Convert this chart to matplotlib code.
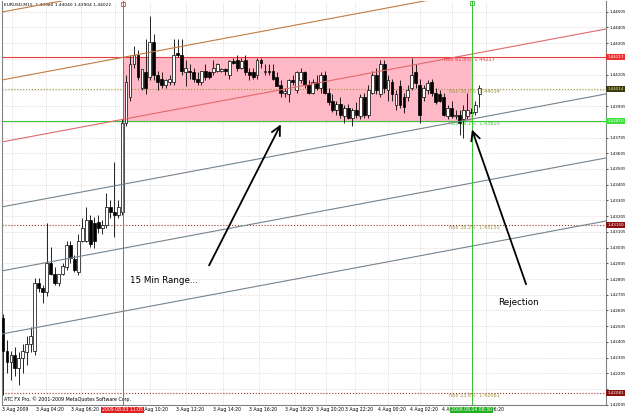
import matplotlib
matplotlib.use('Agg')
import matplotlib.pyplot as plt


# EURUSD M15 bars
opens = [1.4256, 1.4235, 1.4228, 1.4232, 1.4224, 1.4230, 1.4234, 1.4239, 1.4235, 1.4278,
         1.4275, 1.4272, 1.4291, 1.4284, 1.4278, 1.4284, 1.4288, 1.4302, 1.4293, 1.4285,
         1.4305, 1.4305, 1.4318, 1.4316, 1.4317, 1.4313, 1.4315, 1.4326, 1.4323, 1.4321,
         1.4323, 1.4380, 1.4396, 1.4417, 1.4423, 1.4402, 1.4412, 1.4409, 1.4431, 1.4410,
         1.4408, 1.4404, 1.4406, 1.4406, 1.4424, 1.4423, 1.4412, 1.4413, 1.4412, 1.4408,
         1.4406, 1.4413, 1.4412, 1.4412, 1.4413, 1.4413, 1.4414, 1.4410, 1.4419, 1.4420,
         1.4415, 1.4420, 1.4412, 1.4412, 1.4410, 1.4420, 1.4412, 1.4413, 1.4413, 1.4409,
         1.4404, 1.4399, 1.4398, 1.4407, 1.4401, 1.4407, 1.4412, 1.4404, 1.4399, 1.4406,
         1.4402, 1.4410, 1.4399, 1.4394, 1.4388, 1.4392, 1.4384, 1.4389, 1.4383, 1.4388,
         1.4384, 1.4396, 1.4385, 1.4399, 1.4410, 1.4398, 1.4417, 1.4401, 1.4406, 1.4391,
         1.4403, 1.4396, 1.4396, 1.4402, 1.4412, 1.4404, 1.4396, 1.4401, 1.4406, 1.4399,
         1.4398, 1.4396, 1.4384, 1.4389, 1.4384, 1.4385, 1.4382, 1.4384, 1.4387, 1.4387,
         1.4398]
highs = [1.4258, 1.4242, 1.4235, 1.4237, 1.4234, 1.4239, 1.4244, 1.4250, 1.4281, 1.4281,
         1.4277, 1.4316, 1.4301, 1.4288, 1.4283, 1.4291, 1.4305, 1.4305, 1.4296, 1.4309,
         1.4319, 1.4326, 1.4321, 1.4320, 1.4321, 1.4318, 1.4335, 1.4331, 1.4355, 1.4331,
         1.4382, 1.4410, 1.4423, 1.4429, 1.4426, 1.4413, 1.4433, 1.4448, 1.4436, 1.4413,
         1.4412, 1.4408, 1.4410, 1.4433, 1.4433, 1.4433, 1.4420, 1.4417, 1.4415, 1.4412,
         1.4413, 1.4417, 1.4413, 1.4420, 1.4418, 1.4415, 1.4415, 1.4420, 1.4421, 1.4423,
         1.4421, 1.4423, 1.4415, 1.4415, 1.4421, 1.4421, 1.4417, 1.4417, 1.4417, 1.4412,
         1.4407, 1.4402, 1.4408, 1.4410, 1.4413, 1.4415, 1.4413, 1.4407, 1.4408, 1.4410,
         1.4412, 1.4413, 1.4402, 1.4398, 1.4394, 1.4396, 1.4391, 1.4392, 1.4389, 1.4393,
         1.4398, 1.4399, 1.4404, 1.4413, 1.4415, 1.4420, 1.4420, 1.4410, 1.4408, 1.4401,
         1.4407, 1.4399, 1.4404, 1.4421, 1.4417, 1.4408, 1.4404, 1.4407, 1.4408, 1.4402,
         1.4401, 1.4399, 1.4391, 1.4394, 1.4388, 1.4388, 1.4391, 1.4399, 1.4389, 1.4394,
         1.4404]
lows = [1.4207, 1.4221, 1.4216, 1.4219, 1.4213, 1.4221, 1.4226, 1.4234, 1.4232, 1.4272,
        1.4265, 1.4270, 1.4283, 1.4277, 1.4276, 1.4283, 1.4286, 1.4291, 1.4285, 1.4283,
        1.4304, 1.4304, 1.4301, 1.4300, 1.4310, 1.4309, 1.4313, 1.4319, 1.4307, 1.4319,
        1.4321, 1.4378, 1.4394, 1.4415, 1.4407, 1.4401, 1.4398, 1.4407, 1.4407, 1.4401,
        1.4402, 1.4402, 1.4404, 1.4404, 1.4422, 1.4410, 1.4403, 1.4408, 1.4406, 1.4404,
        1.4404, 1.4407, 1.4408, 1.4410, 1.4412, 1.4412, 1.4410, 1.4408, 1.4417, 1.4413,
        1.4414, 1.4410, 1.4407, 1.4408, 1.4408, 1.4415, 1.4410, 1.4410, 1.4407, 1.4403,
        1.4396, 1.4396, 1.4393, 1.4404, 1.4399, 1.4405, 1.4402, 1.4398, 1.4398, 1.4401,
        1.4399, 1.4398, 1.4391, 1.4387, 1.4385, 1.4383, 1.4380, 1.4382, 1.4378, 1.4383,
        1.4382, 1.4383, 1.4383, 1.4398, 1.4398, 1.4396, 1.4399, 1.4394, 1.4394, 1.4388,
        1.4389, 1.4386, 1.4394, 1.4401, 1.4402, 1.4380, 1.4394, 1.4398, 1.4397, 1.4392,
        1.4393, 1.4384, 1.4382, 1.4383, 1.4382, 1.4372, 1.4370, 1.4382, 1.4386, 1.4385,
        1.4390]
closes = [1.4235, 1.4228, 1.4232, 1.4224, 1.4230, 1.4235, 1.4239, 1.4244, 1.4278, 1.4275,
          1.4272, 1.4291, 1.4284, 1.4278, 1.4284, 1.4289, 1.4302, 1.4294, 1.4286, 1.4305,
          1.4313, 1.4318, 1.4303, 1.4305, 1.4313, 1.4315, 1.4326, 1.4323, 1.4321, 1.4326,
          1.4380, 1.4406, 1.4417, 1.4423, 1.4409, 1.4414, 1.4402, 1.4431, 1.4410, 1.4406,
          1.4404, 1.4407, 1.4408, 1.4423, 1.4423, 1.4413, 1.4415, 1.4412, 1.4408, 1.4406,
          1.4413, 1.4409, 1.4409, 1.4415, 1.4417, 1.4414, 1.4413, 1.4419, 1.4418, 1.4415,
          1.4419, 1.4412, 1.4410, 1.4409, 1.4420, 1.4418, 1.4413, 1.4412, 1.4408, 1.4403,
          1.4399, 1.4400, 1.4407, 1.4406, 1.4412, 1.4412, 1.4404, 1.4399, 1.4406, 1.4402,
          1.4410, 1.4399, 1.4393, 1.4388, 1.4392, 1.4385, 1.4389, 1.4383, 1.4388, 1.4385,
          1.4396, 1.4385, 1.4401, 1.4410, 1.4401, 1.4417, 1.4402, 1.4407, 1.4398, 1.4398,
          1.4391, 1.4390, 1.4401, 1.4410, 1.4405, 1.4385, 1.4402, 1.4405, 1.4399, 1.4393,
          1.4394, 1.4385, 1.4389, 1.4384, 1.4385, 1.4380, 1.4388, 1.4388, 1.4386, 1.4391,
          1.4402]

price_ticks = [1.42005, 1.42105, 1.42205, 1.42305, 1.42405, 1.42505, 1.42605, 1.42705,
               1.42805, 1.42905, 1.43005, 1.43105, 1.43205, 1.43305, 1.43405, 1.43505,
               1.43605, 1.43705, 1.43805, 1.43905, 1.44005, 1.44105, 1.44205, 1.44305,
               1.44405, 1.44505]
hidden_ticks = [1.42105, 1.43805, 1.44005, 1.44205]

time_bars = [-0.25, 8.3, 17.1, 25.7, 34.5, 43.6, 52.9, 62.0, 71.0, 78.8, 86.1, 94.5,
             102.5, 110.6, 119.1]
time_labels = ['3 Aug 2009', '3 Aug 04:20', '3 Aug 06:20', '3 Aug 08:20', '3 Aug 10:20',
               '3 Aug 12:20', '3 Aug 14:20', '3 Aug 16:20', '3 Aug 18:20', '3 Aug 20:20',
               '3 Aug 22:20', '4 Aug 00:20', '4 Aug 02:20', '4 Aug 04:20', '4 Aug 06:20']

fib_levels = [1.44217, 1.44014, 1.43810, 1.43150, 1.42081]
fib_names = ['fibo 61.8%', 'fibo 50.0%', 'fibo 38.2%', 'fibo 38.2%', 'fibo 23.6%']
fib_colors = ['#e83a3a', '#9a9a30', '#3cc83c', '#a09040', '#a09040']
fib_styles = ['-', ':', '-', ':', ':']
fib_tag_bg = ['#f03030', '#3a3a10', '#3ce03c', '#8b1010', '#8b1010']

channel_at_bar0 = [1.44504, 1.44072, 1.43678, 1.43265, 1.42858, 1.42457]
channel_slope = 0.0000472
channel_colors = ['#c07a40', '#c07a40', '#e06a6a', '#74848f', '#74848f', '#74848f']

range_start, range_end = 30.2, 118.1
range_low, range_high = 1.43810, 1.44217

fig = plt.figure(figsize=(6.25, 4.15), dpi=100)
ax = fig.add_axes([2 / 625, 10 / 415, 604 / 625, 404 / 415])
ax.set_xlim(-0.25, 151.9)
ax.set_ylim(1.42004, 1.44573)

grid_kw = dict(color='#cdbcbc', lw=0.5, linestyle=(0, (1, 2)), zorder=0.5)
for p in price_ticks:
    ax.axhline(p, **grid_kw)
for b in time_bars:
    ax.axvline(b + 2.5, **grid_kw)

# 15 minute range box
ax.fill_between([range_start, range_end], range_low, range_high,
                color='#ffb8c6', lw=0, zorder=1)

for lvl, col, ls in zip(fib_levels, fib_colors, fib_styles):
    c = '#a83030' if lvl < 1.435 else col
    ax.axhline(lvl, color=c, lw=0.8, linestyle=ls, zorder=1.5)

# channel lines
for start, col in zip(channel_at_bar0, channel_colors):
    ax.plot([-2, 155], [start - 2 * channel_slope, start + 155 * channel_slope],
            color=col, lw=0.8, zorder=4)

ax.axvline(range_start, color='#e04a4a', lw=0.7, zorder=4)
ax.axvline(range_end, color='#30c030', lw=0.7, zorder=4)
ax.plot([range_start], [1.44555], marker='s', ms=2.5, mfc='none', mec='#e04a4a', mew=0.6, zorder=5)
ax.plot([range_end], [1.44562], marker='s', ms=2.5, mfc='none', mec='#30c030', mew=0.6, zorder=5)

# candles
xs = list(range(len(opens)))
ax.vlines(xs, lows, highs, color='black', lw=0.6, zorder=3)
for x, o, c in zip(xs, opens, closes):
    up = c >= o
    ax.bar(x, max(abs(c - o), 0.00003), bottom=min(o, c), width=0.72,
           color='white' if up else 'black', edgecolor='black', lw=0.5, zorder=3.5)

for lvl, name, col in zip(fib_levels, fib_names, fib_colors):
    xpos = 111.0 if name == 'fibo 61.8%' else 112.3
    ax.text(xpos, lvl - 0.00003, f'{name}  {lvl:.5f}', color=col, fontsize=3.6,
            ha='left', va='top', zorder=6)

# right price scale
ax.yaxis.tick_right()
ax.set_yticks(price_ticks)
ax.set_yticklabels(['' if p in hidden_ticks else f'{p:.5f}' for p in price_ticks])
ax.tick_params(axis='y', length=1.5, width=0.5, labelsize=3.0, pad=0.8, colors='black')
ax.set_xticks([])
for lvl, bg in zip(fib_levels, fib_tag_bg):
    fg = '#e8e880' if bg == '#3a3a10' else 'white'
    ax.text(1.002, lvl, f'{lvl:.5f}', transform=ax.get_yaxis_transform(), fontsize=3.0,
            color=fg, ha='left', va='center', clip_on=False, zorder=7,
            bbox=dict(boxstyle='square,pad=0.3', fc=bg, ec='none'))

# time scale
for b, lab in zip(time_bars, time_labels):
    ax.text(b, -0.006, lab, transform=ax.get_xaxis_transform(), fontsize=3.3,
            ha='left', va='top', clip_on=False)
ax.text(range_start, -0.006, '2009.08.03 11:05', transform=ax.get_xaxis_transform(),
        fontsize=3.3, color='white', ha='center', va='top', clip_on=False, zorder=7,
        bbox=dict(boxstyle='square,pad=0.2', fc='#e02020', ec='none'))
ax.text(range_end, -0.006, '2009.08.04 08:30', transform=ax.get_xaxis_transform(),
        fontsize=3.3, color='white', ha='center', va='top', clip_on=False, zorder=7,
        bbox=dict(boxstyle='square,pad=0.2', fc='#20b020', ec='none'))

ax.spines['top'].set_visible(False)
for side in ['left', 'right', 'bottom']:
    ax.spines[side].set_color('#808080')
    ax.spines[side].set_linewidth(0.8)

ax.text(0.004, 0.995, 'EURUSD,M15  1.43980 1.44040 1.43904 1.44022',
        transform=ax.transAxes, fontsize=3.2, ha='left', va='top')
ax.text(0.004, 0.007, 'ATC FX Pro, \u00a9 2001-2009 MetaQuotes Software Corp.',
        transform=ax.transAxes, fontsize=3.4, ha='left', va='bottom')

# annotations
arrow = dict(arrowstyle='->', lw=1.3, color='black', mutation_scale=16)
ax.annotate('', xy=(70.3, 1.43804), xytext=(51.6, 1.42876), arrowprops=arrow, zorder=8)
ax.annotate('', xy=(117.9, 1.43772), xytext=(132.0, 1.42755), arrowprops=arrow, zorder=8)
ax.text(32.0, 1.42793, '15 Min Range...', fontsize=6.3, ha='left', va='center', zorder=8)
ax.text(124.7, 1.42653, 'Rejection', fontsize=6.3, ha='left', va='center', zorder=8)

fig.savefig('out.png', dpi=100)
